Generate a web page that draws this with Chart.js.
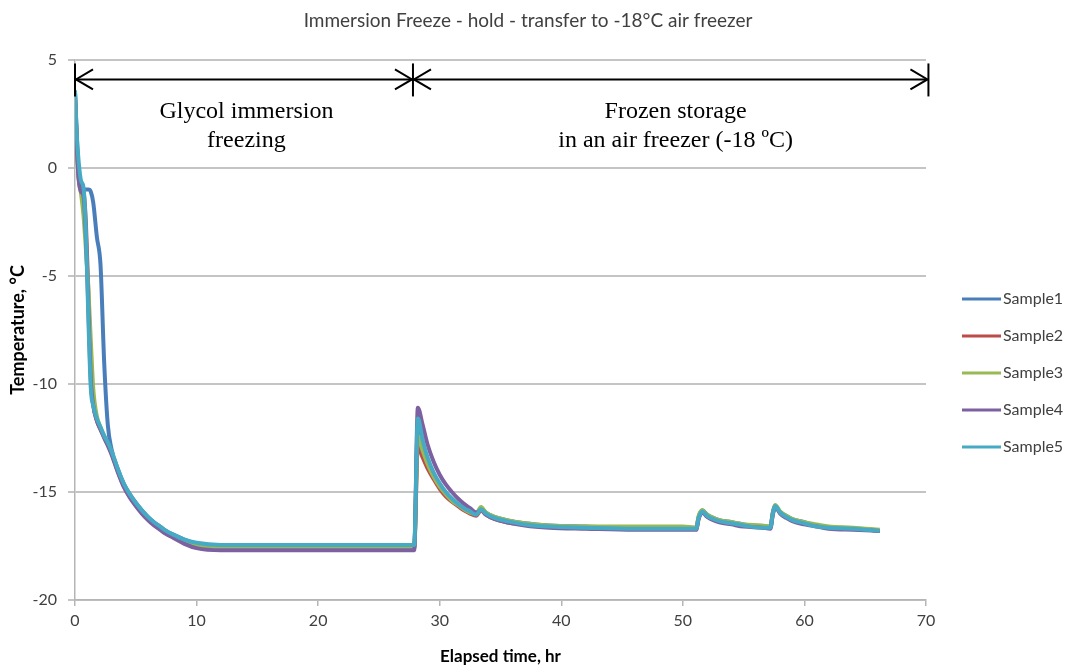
<!DOCTYPE html>
<html>
<head>
<meta charset="utf-8">
<script src="https://cdn.jsdelivr.net/npm/chart.js@4.4.0/dist/chart.umd.min.js"></script>
<style>
    html, body { margin: 0; padding: 0; background: #fff; }
    #wrap { width: 1069px; height: 669px; }
</style>
</head>
<body>
<div id="wrap"><canvas id="myChart" width="1069" height="669"></canvas></div>
<script>
/* Immersion freeze - hold - transfer chart */
const chartTitle = 'Immersion Freeze - hold - transfer to -18°C air freezer';
const seriesNames = ['Sample1', 'Sample2', 'Sample3', 'Sample4', 'Sample5'];
const seriesColors = ['#4a7ebb', '#be4b48', '#98b954', '#7d60a0', '#46aac5'];

// elapsed time, hr
const elapsed = [0, 0.15, 0.3, 0.5, 0.7, 0.9, 1.1, 1.3, 1.5, 1.8, 2.1, 2.4, 2.7, 3.0, 3.5, 4, 4.5, 5, 5.5, 6,
    6.5, 7, 7.5, 8, 9, 10, 12, 15, 20, 25, 27.9, 28.2, 28.6, 29, 29.5, 30, 30.5, 31, 31.5, 32,
    32.5, 33, 33.4, 33.8, 34.5, 35.5, 37, 39, 42, 46, 50, 51.1, 51.3, 51.6, 52, 52.5, 53, 54, 55, 56.5,
    57.2, 57.4, 57.6, 58, 58.5, 59, 60, 61, 62, 64, 66.2];

// temperature, °C
const sample1 = [3.5, 1.5, -0.4, -0.9, -1.0, -1.0, -1.0, -1.1, -1.6, -3.2, -4.5, -9.0, -11.9, -13.0, -13.9, -14.6, -15.1, -15.5, -15.85, -16.15,
    -16.4, -16.6, -16.8, -16.95, -17.2, -17.4, -17.55, -17.55, -17.55, -17.55, -17.55,
    -12.0, -12.9, -13.6, -14.25, -14.7, -15.05, -15.35, -15.6, -15.75, -15.9, -16.0, -15.75, -15.95, -16.15, -16.3, -16.45, -16.55, -16.6, -16.65, -16.65,
    -16.65, -16.15, -15.85, -16.05, -16.2, -16.3, -16.4, -16.5, -16.6, -16.6, -15.95, -15.65, -15.95, -16.1, -16.25, -16.4, -16.55, -16.65, -16.7, -16.8];
const sample2 = [3.3, 1.2, -0.3, -0.9, -1.1, -2.6, -5.8, -9.4, -10.9, -11.7, -12.1, -12.45, -12.8, -13.2, -14.0, -14.7, -15.2, -15.6, -15.95, -16.25,
    -16.5, -16.7, -16.9, -17.05, -17.3, -17.5, -17.6, -17.6, -17.6, -17.6, -17.6,
    -12.9, -13.4, -13.9, -14.4, -14.85, -15.2, -15.45, -15.65, -15.85, -16.0, -16.1, -15.85, -16.05, -16.25, -16.4, -16.5, -16.6, -16.65, -16.7, -16.7,
    -16.7, -16.2, -15.9, -16.1, -16.25, -16.35, -16.45, -16.55, -16.6, -16.65, -16.0, -15.65, -15.95, -16.15, -16.3, -16.45, -16.55, -16.65, -16.7, -16.8];
const sample3 = [3.4, 1.0, -0.5, -1.2, -2.2, -3.8, -5.6, -8.0, -10.2, -11.5, -12.0, -12.4, -12.75, -13.15, -13.95, -14.65, -15.15, -15.55, -15.9, -16.2,
    -16.45, -16.65, -16.85, -17.0, -17.25, -17.45, -17.6, -17.6, -17.6, -17.6, -17.6,
    -12.4, -13.1, -13.7, -14.3, -14.75, -15.1, -15.4, -15.6, -15.8, -15.95, -16.0, -15.7, -15.95, -16.15, -16.3, -16.45, -16.55, -16.6, -16.6, -16.6,
    -16.65, -16.1, -15.85, -16.05, -16.2, -16.3, -16.4, -16.5, -16.55, -16.6, -15.95, -15.6, -15.9, -16.1, -16.25, -16.4, -16.5, -16.6, -16.65, -16.75];
const sample4 = [3.5, 1.0, -0.5, -1.1, -1.3, -3.2, -6.5, -9.8, -11.0, -11.7, -12.1, -12.5, -12.85, -13.25, -14.05, -14.75, -15.25, -15.65, -16.0, -16.3,
    -16.55, -16.75, -16.95, -17.1, -17.4, -17.6, -17.7, -17.7, -17.7, -17.7, -17.7,
    -11.1, -11.9, -12.8, -13.6, -14.2, -14.65, -15.0, -15.3, -15.55, -15.75, -15.95, -15.85, -16.05, -16.25, -16.4, -16.55, -16.65, -16.7, -16.75, -16.75,
    -16.75, -16.25, -15.95, -16.15, -16.3, -16.4, -16.5, -16.6, -16.65, -16.7, -16.05, -15.7, -16.0, -16.2, -16.35, -16.5, -16.6, -16.7, -16.75, -16.8];
const sample5 = [3.6, 1.5, 0.3, -0.6, -0.9, -3.0, -7.0, -10.2, -11.0, -11.6, -12.0, -12.4, -12.7, -13.1, -13.9, -14.6, -15.1, -15.5, -15.85, -16.15,
    -16.4, -16.6, -16.8, -16.95, -17.2, -17.35, -17.45, -17.45, -17.45, -17.45, -17.45,
    -11.6, -12.6, -13.4, -14.1, -14.6, -15.0, -15.3, -15.55, -15.75, -15.9, -16.05, -15.8, -16.0, -16.2, -16.35, -16.5, -16.6, -16.65, -16.7, -16.7,
    -16.7, -16.2, -15.9, -16.1, -16.25, -16.35, -16.45, -16.55, -16.65, -16.65, -16.0, -15.65, -15.95, -16.15, -16.3, -16.45, -16.6, -16.65, -16.7, -16.8];

// phase arrows over the plot
const phaseBounds = [0, 27.8, 70.2];
const phaseText = [['Glycol immersion', 'freezing'], ['Frozen storage', 'in an air freezer (-18 ºC)']];

let apps = {
    // chart title, centred over plot + legend like Excel does
    titlePlugin: {
        id: 'topTitle',
        afterDraw(chart) {
            const c = chart.ctx;
            c.save();
            c.font = '19px Lato';
            c.fillStyle = '#404040';
            c.textAlign = 'center';
            c.textBaseline = 'middle';
            c.fillText(chartTitle, 528, 21);
            c.restore();
        }
    },
    // double arrows + phase captions
    phasePlugin: {
        id: 'phases',
        afterDatasetsDraw(chart) {
            const c = chart.ctx, xs = chart.scales.x, ys = chart.scales.y;
            const ay = ys.getPixelForValue(4.1);
            c.save();
            c.strokeStyle = '#000';
            c.lineWidth = 2;
            phaseBounds.forEach(v => {
                const px = xs.getPixelForValue(v);
                c.beginPath(); c.moveTo(px, ay - 16); c.lineTo(px, ay + 17); c.stroke();
            });
            for (let i = 0; i < phaseBounds.length - 1; i++) {
                const a = xs.getPixelForValue(phaseBounds[i]) + 1;
                const b = xs.getPixelForValue(phaseBounds[i + 1]) - 1;
                c.beginPath(); c.moveTo(a, ay); c.lineTo(b, ay); c.stroke();
                c.beginPath(); c.moveTo(a + 17, ay - 10); c.lineTo(a, ay); c.lineTo(a + 17, ay + 10); c.stroke();
                c.beginPath(); c.moveTo(b - 17, ay - 10); c.lineTo(b, ay); c.lineTo(b - 17, ay + 10); c.stroke();
            }
            c.fillStyle = '#000';
            c.font = '24px "Liberation Serif"';
            c.textAlign = 'center';
            c.textBaseline = 'middle';
            const centers = [14.1, 49.4];
            phaseText.forEach((lines, i) => {
                const px = xs.getPixelForValue(centers[i]);
                c.fillText(lines[0], px, ys.getPixelForValue(2.6));
                c.fillText(lines[1], px, ys.getPixelForValue(1.25));
            });
            c.restore();
        }
    },
    // legend on the right, Excel style
    legendPlugin: {
        id: 'sideLegend',
        afterDraw(chart) {
            const c = chart.ctx;
            c.save();
            c.font = '16px Lato';
            c.textBaseline = 'middle';
            c.textAlign = 'left';
            chart.data.datasets.forEach((ds, i) => {
                const y = 299 + i * 37;
                c.strokeStyle = ds.borderColor;
                c.lineWidth = 3;
                c.beginPath(); c.moveTo(962, y); c.lineTo(1001, y); c.stroke();
                c.fillStyle = '#404040';
                c.fillText(ds.label, 1003, y);
            });
            c.restore();
        }
    },
    chartFreeze: function() {
        const series = [sample1, sample2, sample3, sample4, sample5];
        const datasets = series.map((s, i) => ({
            label: seriesNames[i],
            data: elapsed.map((t, k) => ({x: t, y: s[k]})),
            borderColor: seriesColors[i],
            backgroundColor: seriesColors[i],
            borderWidth: 4,
            pointRadius: 0,
            cubicInterpolationMode: 'monotone',
            fill: false,
            order: series.length - i
        }));
        const tickFont = {family: 'Lato', size: 16};
        var ctx = document.getElementById('myChart');
        return new Chart(ctx, {
            type: 'line',
            data: {datasets: datasets},
            options: {
                responsive: false,
                animation: false,
                devicePixelRatio: 1,
                layout: {padding: {top: 60, right: 143}},
                plugins: {
                    legend: {display: false},
                    tooltip: {enabled: false},
                    title: {display: false}
                },
                scales: {
                    x: {
                        type: 'linear',
                        min: 0,
                        max: 70,
                        ticks: {stepSize: 10, color: '#404040', font: tickFont, padding: 5},
                        grid: {drawOnChartArea: false, tickLength: 6, color: '#b5b5b5', lineWidth: 1.5},
                        border: {color: '#b5b5b5', width: 1.5},
                        title: {display: true, text: 'Elapsed time, hr', color: '#000',
                            font: {family: 'Lato', size: 17, weight: 'bold'}, padding: {top: 0, bottom: 2}},
                        afterFit: s => { s.height = 69; }
                    },
                    y: {
                        min: -20,
                        max: 5,
                        ticks: {stepSize: 5, color: '#404040', font: tickFont, padding: 11},
                        grid: {color: '#c4c4c4', lineWidth: 2, tickLength: 7},
                        border: {color: '#b5b5b5', width: 1.5},
                        title: {display: true, text: 'Temperature, °C', color: '#000',
                            font: {family: 'Lato', size: 18, weight: 'bold'}, padding: {top: 7, bottom: 0}},
                        afterFit: s => { s.width = 75; }
                    }
                }
            },
            plugins: [apps.titlePlugin, apps.phasePlugin, apps.legendPlugin]
        });
    }
};

apps.chartFreeze();
</script>
</body>
</html>
